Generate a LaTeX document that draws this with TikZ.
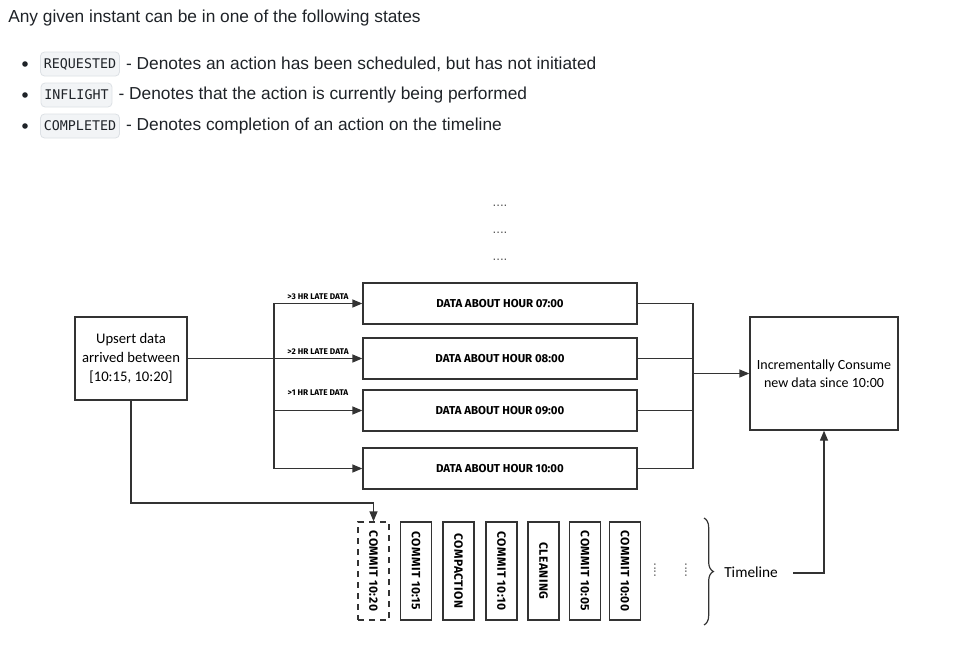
\documentclass[tikz,border=0pt]{standalone}
\usepackage{fontspec}
\setmainfont{Liberation Sans}
\newfontfamily\handf{Carlito}
\newfontfamily\capsf{Fira Sans}
\newfontfamily\codef{DejaVu Sans Mono}
\usetikzlibrary{arrows.meta,decorations.pathreplacing}
\definecolor{ink}{HTML}{1F2328}
\definecolor{codebg}{HTML}{F2F4F6}
\definecolor{codeln}{HTML}{DDE1E5}
\definecolor{edge}{HTML}{333333}
\tikzset{
  bodytext/.style={font=\fontsize{13}{15}\selectfont, text=ink, inner sep=0pt},
  codebox/.style={font=\codef\fontsize{10}{12}\selectfont, text=ink, fill=codebg, draw=codeln, line width=0.6pt, rounded corners=3pt, inner xsep=2.5pt, minimum height=18pt},
  bull/.style={circle, fill=ink, inner sep=0pt, minimum size=4.2pt},
  dbox/.style={draw=edge, line width=1pt, align=center, font=\handf\fontsize{11}{14.2}\selectfont},
  hourbox/.style={draw=edge, line width=1pt, minimum width=205.5pt, minimum height=30.75pt, font=\capsf\bfseries\fontsize{8.6}{9}\selectfont},
  lbl/.style={font=\capsf\bfseries\fontsize{6.2}{7}\selectfont, inner sep=0pt},
  tbox/.style={draw=edge, line width=1pt, minimum width=23.25pt, minimum height=73.5pt},
  rtext/.style={rotate=-90, font=\capsf\bfseries\fontsize{9}{10}\selectfont\addfontfeatures{LetterSpace=4}},
  conn/.style={draw=edge, line width=1pt},
  arr/.style={conn, -{Triangle[length=7.5pt,width=6pt]}},
  dotsn/.style={font=\fontsize{10}{10}\selectfont, text=black!65, inner sep=0pt}
}
\begin{document}
\begin{tikzpicture}[x=0.75pt,y=-0.75pt]
\useasboundingbox[fill=white] (0,0) rectangle (980,646);

% header text
\node[bodytext, anchor=base west] (title) at (8,22.5) {Any given instant can be in one of the following states};

\node[bull] (b1) at (25,64) {};
\node[codebox] (req) at (80,64) {REQUESTED};
\node[bodytext, anchor=west] (d1) at ([xshift=4.5pt]req.east) {- Denotes an action has been scheduled, but has not initiated};

\node[bull] (b2) at (25,95) {};
\node[codebox] (inf) at (76.5,95) {INFLIGHT};
\node[bodytext, anchor=west] (d2) at ([xshift=4.5pt]inf.east) {- Denotes that the action is currently being performed};

\node[bull] (b3) at (25,126) {};
\node[codebox] (cmp) at (80,126) {COMPLETED};
\node[bodytext, anchor=west] (d3) at ([xshift=4.5pt]cmp.east) {- Denotes completion of an action on the timeline};

% top dots
\node[dotsn] (td1) at (500,206) {....};
\node[dotsn] (td2) at (500,233) {....};
\node[dotsn] (td3) at (500,260) {....};

% upsert box
\node[dbox, minimum width=84pt, minimum height=62.25pt] (u) at (131,358.5) {Upsert data\\arrived between\\{[10:15, 10:20]}};

% hour boxes
\node[hourbox] (h7) at (500,303.5) {DATA ABOUT HOUR 07:00};
\node[hourbox] (h8) at (500,358.5) {DATA ABOUT HOUR 08:00};
\node[hourbox] (h9) at (500,410.5) {DATA ABOUT HOUR 09:00};
\node[hourbox] (h10) at (500,468.5) {DATA ABOUT HOUR 10:00};

% consume box
\node[dbox, font=\handf\fontsize{10.5}{13.5}\selectfont, minimum width=111pt, minimum height=84.75pt] (c) at (824,373.5) {Incrementally Consume\\new data since 10:00};

% left fan
\coordinate (sl) at (274,0);
\draw[arr] (u.east) -- (h8.west);
\draw[arr] (sl |- h8.west) |- (h7.west);
\draw[arr] (sl |- h8.west) |- (h10.west);
\draw[arr] (sl |- h9.west) -- (h9.west);
\node[lbl] (l3) at (318,297) {>3 HR LATE DATA};
\node[lbl] (l2) at (318,352) {>2 HR LATE DATA};
\node[lbl] (l1) at (318,393) {>1 HR LATE DATA};

% right fan
\coordinate (sr) at (693,0);
\draw[conn] (h7.east) -| (sr |- h10.east) -- (h10.east);
\draw[conn] (h8.east) -- (sr |- h8.east);
\draw[conn] (h9.east) -- (sr |- h9.east);
\draw[arr] (sr |- c.west) -- (c.west);

% timeline boxes
\node[tbox, dash pattern=on 4.5pt off 3.75pt] (t1) at (373.5,571) {};
\node[rtext] (t1t) at (t1) {COMMIT 10:20};
\node[tbox] (t2) at (416,571) {};
\node[rtext] (t2t) at (t2) {COMMIT 10:15};
\node[tbox] (t3) at (458.5,571) {};
\node[rtext] (t3t) at (t3) {COMPACTION};
\node[tbox] (t4) at (501.5,571) {};
\node[rtext] (t4t) at (t4) {COMMIT 10:10};
\node[tbox] (t5) at (543.5,571) {};
\node[rtext] (t5t) at (t5) {CLEANING};
\node[tbox] (t6) at (585,571) {};
\node[rtext] (t6t) at (t6) {COMMIT 10:05};
\node[tbox] (t7) at (625,571) {};
\node[rtext] (t7t) at (t7) {COMMIT 10:00};

\node[dotsn, rotate=90] (vd1) at (655,570) {....};
\node[dotsn, rotate=90] (vd2) at (686,570) {....};

% upsert to timeline
\coordinate (bend) at (373.5,503);
\draw[arr] (u.south) |- (bend) -- (t1.north);

% brace and timeline label
\coordinate (bt) at (704,518);
\coordinate (bb) at (704,625);
\draw[edge, line width=0.9pt, decorate, decoration={brace, amplitude=7pt}] (bt) -- (bb);
\node[font=\handf\fontsize{11.5}{13}\selectfont, anchor=west, inner sep=0pt] (tl) at (724,572) {Timeline};
\coordinate (tlstart) at (793,573);
\draw[arr] (tlstart) -| (c.south);
\end{tikzpicture}
\end{document}
